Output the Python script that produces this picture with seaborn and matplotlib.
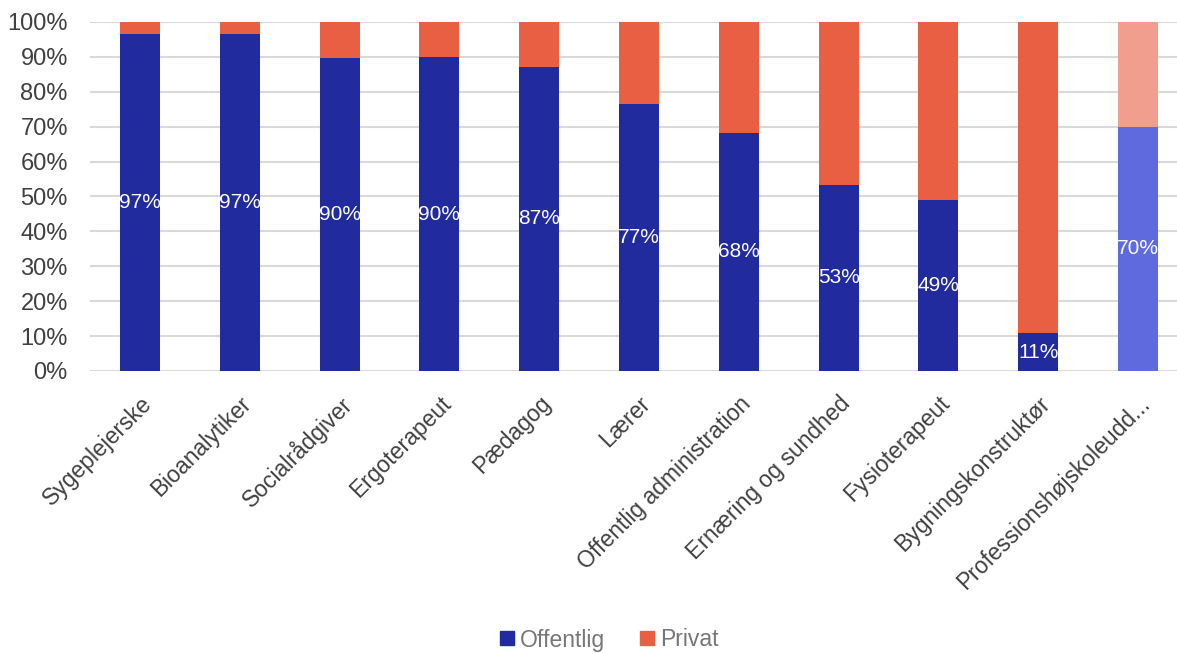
import numpy as np
import pandas as pd
import seaborn as sns
import matplotlib.pyplot as plt
from matplotlib.lines import Line2D

categories = ['Sygeplejerske', 'Bioanalytiker', 'Socialrådgiver', 'Ergoterapeut', 'Pædagog',
              'Lærer', 'Offentlig administration', 'Ernæring og sundhed', 'Fysioterapeut',
              'Bygningskonstruktør', 'Professionshøjskoleudd...']
offentlig = [96.6, 96.6, 89.7, 89.9, 87.2, 76.6, 68.2, 53.3, 49.0, 10.8, 70.0]
privat = [100 - v for v in offentlig]

blue = '#212B9E'
orange = '#E95F44'
blue_light = '#5F6ADF'
orange_light = '#F29E8E'

df = pd.DataFrame({'cat': categories, 'off': offentlig, 'total': [o + p for o, p in zip(offentlig, privat)]})

sns.set_style('white')
plt.rcParams['font.family'] = ['Liberation Sans', 'DejaVu Sans']

fig = plt.figure(figsize=(11.77, 6.53), dpi=100)
ax = fig.add_axes([90 / 1177, 1 - 371 / 653, 1087 / 1177, 349 / 653])

pal_top = [orange] * 10 + [orange_light]
pal_bot = [blue] * 10 + [blue_light]
sns.barplot(data=df, x='cat', y='total', hue='cat', palette=pal_top, width=0.4,
            legend=False, ax=ax, saturation=1, linewidth=0, zorder=2)
sns.barplot(data=df, x='cat', y='off', hue='cat', palette=pal_bot, width=0.4,
            legend=False, ax=ax, saturation=1, linewidth=0, zorder=3)

for i, v in enumerate(offentlig):
    ax.text(i, v / 2, f'{round(v):.0f}%', ha='center', va='center', color='white', fontsize=15, zorder=4)

ax.set_xlim(-0.5, 10.39)
ax.set_ylim(0, 100)
ax.set_yticks(np.arange(0, 101, 10))
ax.set_yticklabels([f'{t}%' for t in range(0, 101, 10)], fontsize=17, color='#404040')
ax.yaxis.grid(True, color='#D9D9D9', linewidth=1.5, zorder=0)
ax.set_axisbelow(True)
ax.tick_params(axis='y', length=0, pad=16)
ax.tick_params(axis='x', length=0, pad=15)
ax.set_xticks(range(len(categories)))
ax.set_xticklabels(categories, rotation=45, ha='right', rotation_mode='anchor', fontsize=16.5, color='#404040')
ax.set_xlabel('')
ax.set_ylabel('')
for s in ax.spines.values():
    s.set_visible(False)

handles = [Line2D([], [], marker='s', linestyle='', color=blue, markersize=9.5),
           Line2D([], [], marker='s', linestyle='', color=orange, markersize=9.5)]
leg = fig.legend(handles, ['Offentlig', 'Privat'], loc='center', bbox_to_anchor=(607 / 1177, 1 - 640 / 653),
                 ncol=2, frameon=False, fontsize=16.5, handletextpad=0.1, columnspacing=1.3, handlelength=1)
for t in leg.get_texts():
    t.set_color('#767676')

fig.savefig('out.png', dpi=100)
